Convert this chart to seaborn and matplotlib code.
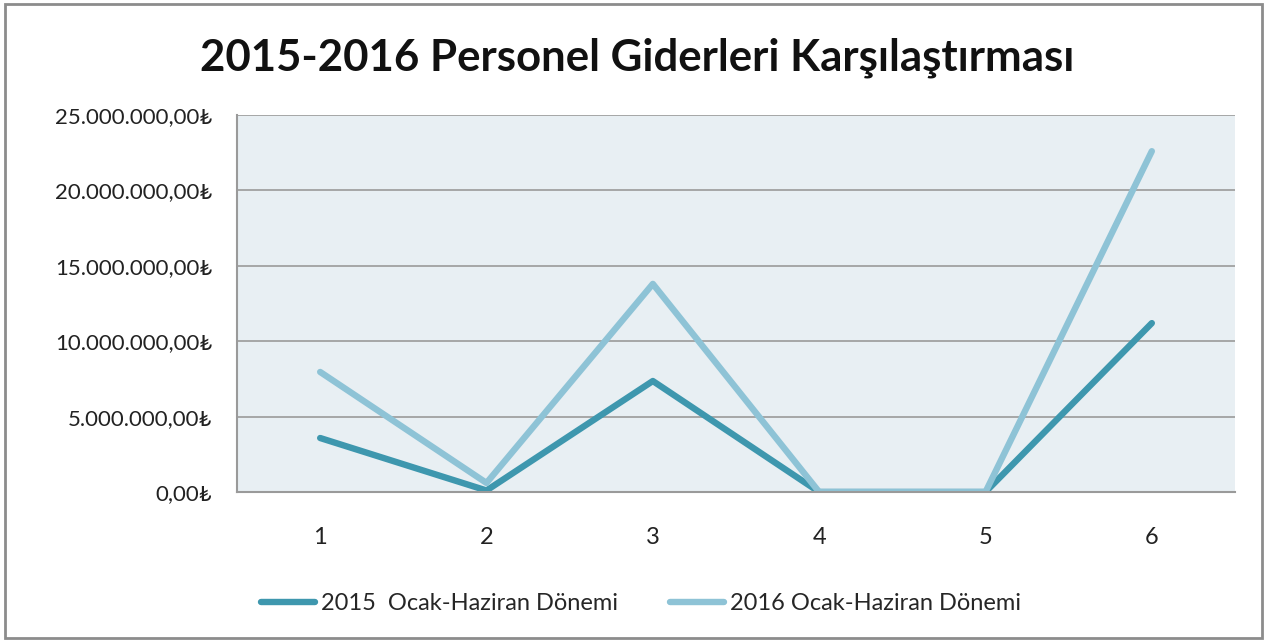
import pandas as pd
import matplotlib.pyplot as plt
import matplotlib.ticker as mticker
from matplotlib.patches import Rectangle
import seaborn as sns

# Data
periods = [1, 2, 3, 4, 5, 6]
gider_2015 = [3580000, 100000, 7360000, 0, 0, 11200000]
gider_2016 = [7960000, 600000, 13800000, 0, 0, 22600000]
series_names = ["2015  Ocak-Haziran Dönemi", "2016 Ocak-Haziran Dönemi"]
y_ticks = [0, 5000000, 10000000, 15000000, 20000000, 25000000]

df = pd.concat([
    pd.DataFrame({"Dönem": periods, "Gider": gider_2015, "Seri": series_names[0]}),
    pd.DataFrame({"Dönem": periods, "Gider": gider_2016, "Seri": series_names[1]}),
])

sns.set_style("white")
plt.rcParams["font.family"] = ["Lato", "DejaVu Sans"]

fig = plt.figure(figsize=(12.77, 6.41), dpi=100)
ax = fig.add_axes([237 / 1277, 1 - 492 / 641, (1235 - 237) / 1277, (492 - 115) / 641])

# outer chart frame
fig.patches.append(Rectangle((5 / 1277, 3 / 641), 1257 / 1277, 634 / 641,
                             transform=fig.transFigure, fill=False,
                             edgecolor="#8c8c8c", linewidth=2))

sns.lineplot(data=df, x="Dönem", y="Gider", hue="Seri",
             palette=["#3E97AE", "#8EC3D6"], linewidth=4.6,
             solid_capstyle="round", ax=ax, legend=False)

ax.set_facecolor("#E8EFF3")
ax.set_xlim(0.5, 6.5)
ax.set_ylim(0, 25000000)
ax.set_xticks(periods)
ax.set_yticks(y_ticks)
ax.yaxis.set_major_formatter(mticker.FuncFormatter(
    lambda v, p: f"{v:,.2f}".replace(",", "X").replace(".", ",").replace("X", ".") + "₺"))
ax.grid(axis="y", color="#9a9a9a", linewidth=1.2)
ax.set_axisbelow(True)
ax.tick_params(axis="both", colors="#222222", length=0)
ax.tick_params(axis="y", labelsize=16, pad=18)
ax.tick_params(axis="x", labelsize=17, pad=25)
ax.set_xlabel("")
ax.set_ylabel("")
for side in ["top", "right"]:
    ax.spines[side].set_visible(False)
for side in ["left", "bottom"]:
    ax.spines[side].set_color("#9a9a9a")
    ax.spines[side].set_linewidth(1.5)

fig.text(0.499, 1 - 58 / 641, "2015-2016 Personel Giderleri Karşılaştırması",
         ha="center", va="center", fontsize=31.5, fontweight="bold", color="#111111")

handles = [plt.Line2D([], [], color=c, linewidth=4.6, solid_capstyle="round")
           for c in ["#3E97AE", "#8EC3D6"]]
fig.legend(handles, series_names, loc="center", bbox_to_anchor=(0.502, 1 - 604 / 641),
           ncol=2, frameon=False, fontsize=17, handlelength=2.3, handletextpad=0.25,
           columnspacing=2.2)

fig.savefig("out.png", dpi=100)
plt.close()
